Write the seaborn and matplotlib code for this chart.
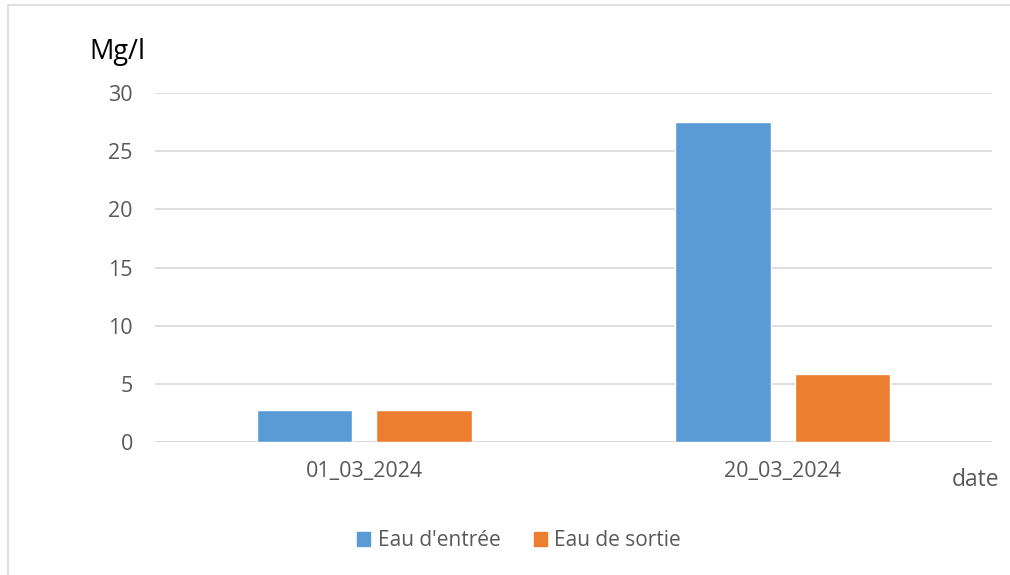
import pandas as pd
import matplotlib.pyplot as plt
import seaborn as sns
from matplotlib.patches import Rectangle

# data
dates = ["01_03_2024", "20_03_2024"]
eau_entree = [2.75, 27.5]
eau_sortie = [2.75, 5.85]
series = ["Eau d'entrée", "Eau de sortie"]
colors = ["#5B9BD5", "#ED7D31"]
yticks = [0, 5, 10, 15, 20, 25, 30]

df = pd.DataFrame({
    "date": dates * 2,
    "valeur": eau_entree + eau_sortie,
    "serie": [series[0]] * len(dates) + [series[1]] * len(dates),
})

sns.set_style("white")
plt.rcParams["font.family"] = ["Open Sans", "DejaVu Sans"]

W, H = 1010, 575
fig = plt.figure(figsize=(W / 100, H / 100), dpi=100)
ax = fig.add_axes([155 / W, (H - 442) / H, (992 - 155) / W, (442 - 93) / H])

sns.barplot(data=df, x="date", y="valeur", hue="serie", palette=colors,
            saturation=1, width=0.57, gap=0.2, ax=ax, legend=False, zorder=3,
            err_kws={"linewidth": 0})

ax.set_ylim(0, 30)
ax.set_xlim(-0.5, 1.5)
ax.set_yticks(yticks)
ax.yaxis.grid(True, color="#d9d9d9", linewidth=1.2, zorder=0)
ax.set_axisbelow(True)
for s in ax.spines.values():
    s.set_visible(False)
ax.axhline(0, color="#d9d9d9", linewidth=1.8, zorder=1)
ax.tick_params(axis="both", length=0, labelsize=15.5, labelcolor="#595959")
ax.tick_params(axis="y", pad=16)
ax.tick_params(axis="x", pad=14)
ax.set_xlabel("")
ax.set_ylabel("")

fig.text(117 / W, 1 - 52 / H, "Mg/l", ha="center", va="center",
         fontsize=19.5, color="#000000")
fig.text(976 / W, 1 - 480 / H, "date", ha="center", va="center",
         fontsize=16.5, color="#595959")

# legend at the bottom
handles = [Rectangle((0, 0), 1, 1, color=c) for c in colors]
fig.legend(handles, series, loc="center", bbox_to_anchor=(519 / W, 1 - 541 / H),
           ncol=2, frameon=False, fontsize=15, labelcolor="#595959",
           handlelength=0.65, handleheight=0.65, handletextpad=0.35,
           columnspacing=1.6)

# chart area border
fig.patches.append(Rectangle((8 / W, -0.05), 1.1, 1 - 5 / H + 0.05,
                             transform=fig.transFigure, fill=False,
                             edgecolor="#d9d9d9", linewidth=1.2))

fig.savefig("out.png", dpi=100)
